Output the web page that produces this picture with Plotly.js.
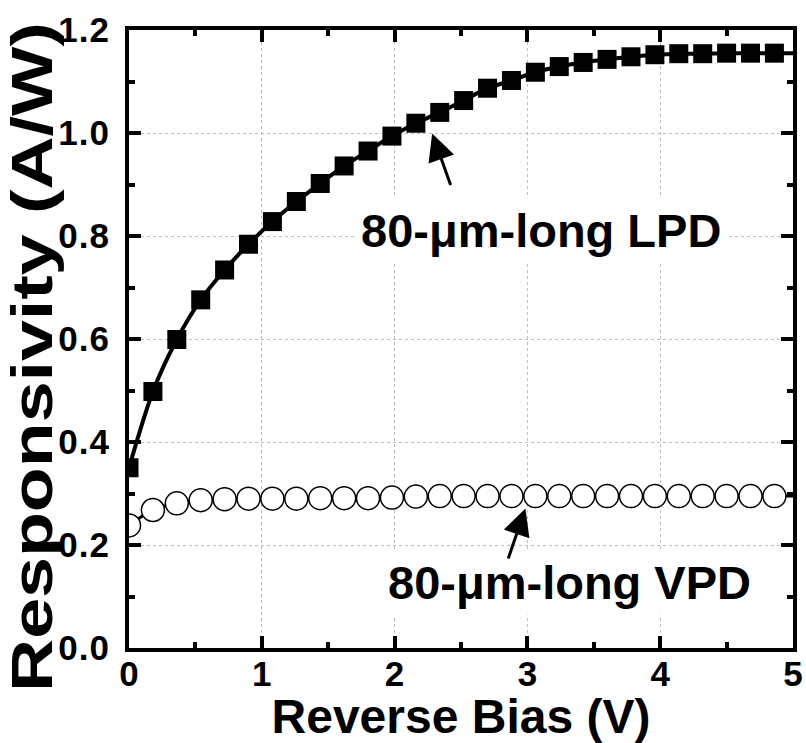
<!DOCTYPE html>
<html>
<head>
<meta charset="utf-8">
<script src="https://cdn.plot.ly/plotly-3.0.1.min.js"></script>
<style>html,body{margin:0;padding:0;background:#fff;}#chart{width:806px;height:743px;}</style>
</head>
<body>
<div id="chart"></div>
<script>
// Reverse bias (V) sample points
const biasV = [0, 0.18, 0.36, 0.54, 0.72, 0.90, 1.08, 1.26, 1.44, 1.62, 1.80, 1.98, 2.16, 2.34,
               2.52, 2.70, 2.88, 3.06, 3.24, 3.42, 3.60, 3.78, 3.96, 4.14, 4.32, 4.50, 4.68, 4.86];
// 80-um-long LPD responsivity (A/W)
const lpdResp = [0.350, 0.498, 0.599, 0.676, 0.734, 0.784, 0.828, 0.867, 0.902, 0.936, 0.965, 0.994, 1.019, 1.040,
                 1.063, 1.087, 1.102, 1.118, 1.129, 1.137, 1.143, 1.148, 1.152, 1.154, 1.154, 1.155, 1.155, 1.155];
// 80-um-long VPD responsivity (A/W)
const vpdResp = [0.238, 0.268, 0.281, 0.287, 0.289, 0.290, 0.290, 0.290, 0.291, 0.291, 0.291, 0.292, 0.294, 0.295,
                 0.295, 0.295, 0.295, 0.295, 0.295, 0.295, 0.295, 0.295, 0.295, 0.295, 0.295, 0.295, 0.295, 0.295];
// fitted curves continue to the end of the axis
const fitEndV = 5;
const lpdFitEnd = 1.155;
const vpdFitEnd = 0.295;

const xTicks = [0, 1, 2, 3, 4, 5];
const xTickText = ['0', '1', '2', '3', '4', '5'];
const yTicks = [0, 0.2, 0.4, 0.6, 0.8, 1.0, 1.2];
const yTickText = ['0.0', '0.2', '0.4', '0.6', '0.8', '1.0', '1.2'];

const xTitle = 'Reverse Bias (V)';
const yTitle = 'Responsivity (A/W)';
const lpdLabel = '80-\u03bcm-long LPD';
const vpdLabel = '80-\u03bcm-long VPD';

const FONT = 'Liberation Sans, Arial, Helvetica, sans-serif';

const traces = [
  { x: biasV.concat([fitEndV]), y: lpdResp.concat([lpdFitEnd]), mode: 'lines',
    line: { color: '#000', width: 4, shape: 'spline', smoothing: 0.8 }, hoverinfo: 'skip' },
  { x: biasV.concat([fitEndV]), y: vpdResp.concat([vpdFitEnd]), mode: 'lines',
    line: { color: '#000', width: 3, shape: 'spline', smoothing: 0.8 }, hoverinfo: 'skip' },
  { x: biasV, y: lpdResp, mode: 'markers', name: 'LPD',
    marker: { symbol: 'square', size: 19, color: '#000', line: { width: 0 } } },
  { x: biasV, y: vpdResp, mode: 'markers', name: 'VPD',
    marker: { symbol: 'circle', size: 23, color: '#fff', line: { color: '#000', width: 1.5 } } }
];

const axisCommon = {
  showline: true, linewidth: 4, linecolor: '#000', mirror: 'ticks',
  ticks: 'inside', ticklen: 12, tickwidth: 4, tickcolor: '#000',
  showgrid: true, gridcolor: '#bdbdbd', griddash: 'dot', gridwidth: 1,
  zeroline: false,
  tickfont: { family: FONT, size: 35, weight: 700, color: '#000' }
};

const layout = {
  width: 806, height: 743,
  margin: { l: 129, r: 13, t: 30, b: 95 },
  paper_bgcolor: '#fff', plot_bgcolor: '#fff',
  showlegend: false,
  xaxis: Object.assign({}, axisCommon, {
    range: [0, 5], tickmode: 'array', tickvals: xTicks, ticktext: xTickText,
    minor: { dtick: 0.5, tick0: 0, ticks: 'inside', ticklen: 6, tickwidth: 4, tickcolor: '#000', showgrid: false },
    ticklabelstandoff: -8,
    title: { text: xTitle, font: { family: FONT, size: 48, weight: 700, color: '#000' }, standoff: 28 }
  }),
  yaxis: Object.assign({}, axisCommon, {
    range: [0, 1.2], tickmode: 'array', tickvals: yTicks, ticktext: yTickText,
    minor: { dtick: 0.1, tick0: 0, ticks: 'inside', ticklen: 6, tickwidth: 4, tickcolor: '#000', showgrid: false },
    ticklabelstandoff: 8,
    title: { text: yTitle, font: { family: FONT, size: 57, weight: 700, color: '#000' }, standoff: 0 }
  }),
  annotations: [
    { x: 3.105, y: 0.81, xref: 'x', yref: 'y', text: lpdLabel, showarrow: false,
      font: { family: FONT, size: 47, weight: 700, color: '#000' },
      bgcolor: '#fff', borderpad: 5, xanchor: 'center', yanchor: 'middle' },
    { x: 3.316, y: 0.127, xref: 'x', yref: 'y', text: vpdLabel, showarrow: false,
      font: { family: FONT, size: 47, weight: 700, color: '#000' },
      bgcolor: '#fff', borderpad: 5, xanchor: 'center', yanchor: 'middle' },
    { x: 2.283, y: 0.999, xref: 'x', yref: 'y', ax: 2.426, ay: 0.896, axref: 'x', ayref: 'y',
      text: '', showarrow: true, arrowhead: 2, arrowsize: 1.8, arrowwidth: 3, arrowcolor: '#000' },
    { x: 2.985, y: 0.271, xref: 'x', yref: 'y', ax: 2.852, ay: 0.171, axref: 'x', ayref: 'y',
      text: '', showarrow: true, arrowhead: 2, arrowsize: 1.8, arrowwidth: 3, arrowcolor: '#000' }
  ]
};

Plotly.newPlot('chart', traces, layout, { displayModeBar: false, staticPlot: true }).then(function (gd) {
  // the reference's vertical title is drawn stretched along its reading direction
  var yt = gd.querySelector('.ytitle');
  if (yt) {
    var tf = yt.getAttribute('transform') || '';
    var m = tf.match(/rotate\(\s*(-?[\d.]+)[ ,]+(-?[\d.]+)[ ,]+(-?[\d.]+)\s*\)/);
    var cx = m ? parseFloat(m[2]) : parseFloat(yt.getAttribute('x'));
    var cy = m ? parseFloat(m[3]) : parseFloat(yt.getAttribute('y'));
    yt.setAttribute('transform',
      'rotate(-90,' + cx + ',' + cy + ') translate(' + (cx - 18) + ',' + cy + ') scale(1.29,1) translate(' + (-cx) + ',' + (-cy) + ')');
  }
  var yl = gd.querySelectorAll('.ytick text');
  yl.forEach(function (t) { t.style.letterSpacing = '1px'; });
});
</script>
</body>
</html>
